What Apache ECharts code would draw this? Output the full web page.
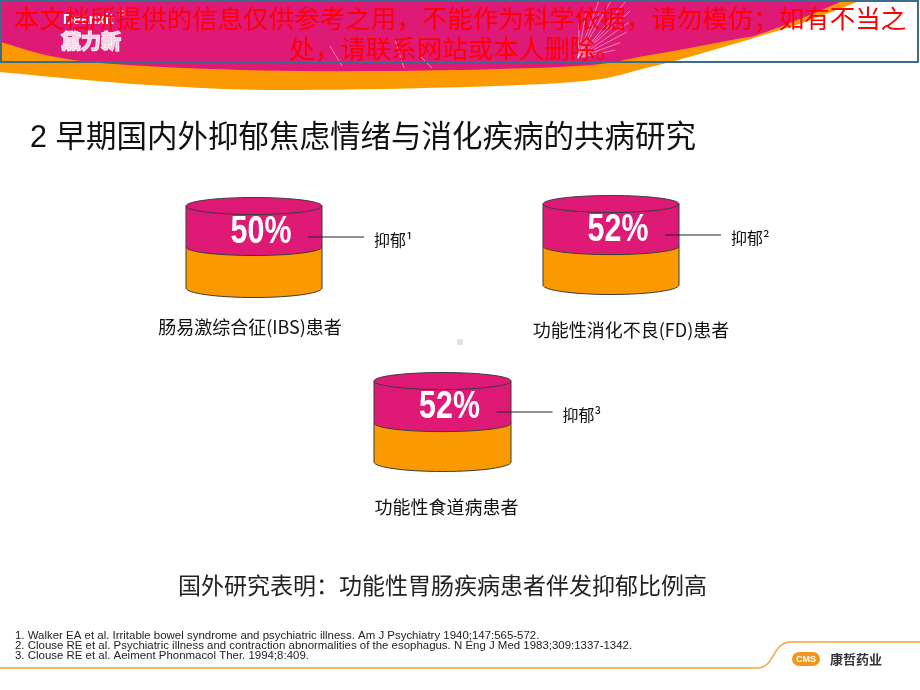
<!DOCTYPE html>
<html><head><meta charset="utf-8">
<script src="https://cdn.jsdelivr.net/npm/echarts@6/dist/echarts.min.js"></script>
<style>html,body{margin:0;padding:0;background:#fff}#c{width:920px;height:690px}</style>
</head><body><div id="c"></div>
<script>
// ---- data ----
const categories = ['肠易激综合征(IBS)患者', '功能性消化不良(FD)患者', '功能性食道病患者'];
const depressionRates = [50, 52, 52];
const rateLabels = ['抑郁¹', '抑郁²', '抑郁³'];
const titleText = '2 早期国内外抑郁焦虑情绪与消化疾病的共病研究';
const conclusionText = '国外研究表明：功能性胃肠疾病患者伴发抑郁比例高';
const noticeLines = ['本文档所提供的信息仅供参考之用，不能作为科学依据，请勿模仿；如有不当之', '处，请联系网站或本人删除。'];
const references = [
  '1. Walker EA et al. Irritable bowel syndrome and psychiatric illness. Am J Psychiatry 1940;147:565-572.',
  '2. Clouse RE et al. Psychiatric illness and contraction abnormalities of the esophagus. N Eng J Med 1983;309:1337-1342.',
  '3. Clouse RE et al. Aeiment Phonmacol Ther. 1994;8:409.'
];

// ---- styling / layout ----
const PINK = '#DF1A76', ORANGE = '#FA9A00', EDGE = '#3a3a3a';
const CJK = '"Noto Sans CJK SC", sans-serif';
const gridBoxes = [
  {left: 186, top: 206, width: 136, height: 82},
  {left: 543, top: 204, width: 136, height: 81},
  {left: 374, top: 381, width: 137, height: 81}
];
const labelMargins = [30, 36, 36];
const labelPads = [[0, 8, 0, 0], [0, 0, 0, 40], [0, 0, 0, 8]];

const K = 0.5523;
function lowerHalf(cx, cy, rx, ry) {
  return `C ${cx - rx} ${cy + K * ry} ${cx - K * rx} ${cy + ry} ${cx} ${cy + ry} C ${cx + K * rx} ${cy + ry} ${cx + rx} ${cy + K * ry} ${cx + rx} ${cy}`;
}
function upperHalf(cx, cy, rx, ry) {
  return `C ${cx + rx} ${cy - K * ry} ${cx + K * rx} ${cy - ry} ${cx} ${cy - ry} C ${cx - K * rx} ${cy - ry} ${cx - rx} ${cy - K * ry} ${cx - rx} ${cy}`;
}

function cylinderItem(idx) {
  return function (params, api) {
    const cat = api.value(0), rate = api.value(1);
    const base = api.coord([cat, 0]);
    const cx = base[0], bottom = base[1];
    const top = api.coord([cat, 100])[1];
    const mid = api.coord([cat, 100 - rate])[1];
    const rx = api.size([1, 0])[0] / 2, ry = 8.5;
    const orangeD = `M ${cx - rx} ${mid} L ${cx - rx} ${bottom} ${lowerHalf(cx, bottom, rx, ry + 1)} L ${cx + rx} ${mid} Z`;
    const pinkD = `M ${cx - rx} ${top} L ${cx - rx} ${mid} ${lowerHalf(cx, mid, rx, ry)} L ${cx + rx} ${top} Z`;
    const topD = `M ${cx - rx} ${top} ${lowerHalf(cx, top, rx, ry)} ${upperHalf(cx, top, rx, ry)} Z`;
    return {
      type: 'group',
      children: [
        {type: 'path', shape: {pathData: orangeD}, style: {fill: ORANGE, stroke: EDGE, lineWidth: 1}},
        {type: 'path', shape: {pathData: pinkD}, style: {fill: PINK, stroke: EDGE, lineWidth: 1}},
        {type: 'path', shape: {pathData: topD}, style: {fill: PINK, stroke: EDGE, lineWidth: 1}},
        {type: 'text', x: cx + 7, y: top + 27, scaleX: 0.8, style: {
          text: rate + '%', fill: '#ffffff',
          font: 'bold 38px "Liberation Sans", sans-serif',
          align: 'center', verticalAlign: 'middle', textAlign: 'center', textVerticalAlign: 'middle'}},
        {type: 'line', shape: {x1: cx + 54, y1: top + 31, x2: cx + 110, y2: top + 31},
          style: {stroke: '#222', lineWidth: 1.2}},
        {type: 'text', x: cx + 120, y: top + 34, style: {
          text: rateLabels[idx], fill: '#111', font: '16px ' + CJK,
          align: 'left', verticalAlign: 'middle', textAlign: 'left', textVerticalAlign: 'middle'}}
      ]
    };
  };
}

// header shapes helper: Catmull-Rom through points
function smoothPts(pts, n) {
  const out = [];
  for (let i = 0; i < pts.length - 1; i++) {
    const p0 = pts[Math.max(i - 1, 0)], p1 = pts[i], p2 = pts[i + 1], p3 = pts[Math.min(i + 2, pts.length - 1)];
    for (let s = 0; s < n; s++) {
      const t = s / n, t2 = t * t, t3 = t2 * t;
      const f = (a, b, c, d) => 0.5 * ((2 * b) + (-a + c) * t + (2 * a - 5 * b + 4 * c - d) * t2 + (-a + 3 * b - 3 * c + d) * t3);
      out.push([f(p0[0], p1[0], p2[0], p3[0]), f(p0[1], p1[1], p2[1], p3[1])]);
    }
  }
  out.push(pts[pts.length - 1]);
  return out;
}
const orangeCurve = [[862, 0], [805, 22], [757, 37], [737, 43], [650, 67], [560, 83], [300, 90], [150, 85], [0, 72]];
const pinkCurve = [[845, 0], [800, 19], [757, 35], [737, 39], [650, 55], [560, 67], [300, 71], [90, 62], [0, 42]];

const dandelion = [];
for (const [ang, len] of [[-80, 45], [-70, 60], [-60, 70], [-50, 75], [-42, 70], [-35, 62], [-28, 55], [-20, 45], [-12, 38], [-88, 35], [-65, 50], [-46, 58]]) {
  const a = ang * Math.PI / 180;
  dandelion.push({type: 'line', shape: {x1: 578, y1: 58, x2: 578 + Math.cos(a) * len, y2: 58 + Math.sin(a) * len},
    style: {stroke: 'rgba(255,255,255,0.45)', lineWidth: 1}, z: 3});
}
for (const [x1, y1, x2, y2] of [[330, 46, 342, 66], [395, 40, 404, 68], [420, 56, 432, 68]]) {
  dandelion.push({type: 'line', shape: {x1, y1, x2, y2}, style: {stroke: 'rgba(255,255,255,0.45)', lineWidth: 1}, z: 3});
}

function txt(text, x, y, font, fill, align, extra) {
  return Object.assign({type: 'text', x, y, z: 10, style: {
    text, font, fill, align: align || 'left', verticalAlign: 'middle',
    textAlign: align || 'left', textVerticalAlign: 'middle'}}, extra || {});
}
const REF_FONT = '10.5px "Liberation Sans", sans-serif';

const graphics = [
  {type: 'polygon', shape: {points: [[0, 0]].concat(smoothPts(orangeCurve, 12))}, style: {fill: ORANGE}, z: 1},
  {type: 'polygon', shape: {points: [[0, 0]].concat(smoothPts(pinkCurve, 12))}, style: {fill: PINK}, z: 2},
  ...dandelion,
  {type: 'rect', shape: {x: 1, y: 1, width: 917, height: 61}, style: {fill: 'none', stroke: '#3d6b8c', lineWidth: 2}, z: 5},
  txt('Deanxit', 63, 20, 'bold 14px "Liberation Sans", sans-serif', '#ffffff', 'left', {z: 6}),
  txt('®', 119, 14, '8px "Liberation Sans", sans-serif', '#ffffff', 'left', {z: 6}),
  {type: 'text', x: 61, y: 41, z: 6, style: {text: '黛力新', font: 'bold 20px ' + CJK, fill: '#f6d3e4', stroke: '#ffffff', lineWidth: 1.5,
    align: 'left', verticalAlign: 'middle', textAlign: 'left', textVerticalAlign: 'middle'}},
  txt(noticeLines[0], 460, 18, '25.5px ' + CJK, '#ff0000', 'center', {z: 20}),
  txt(noticeLines[1], 455, 48, '25.5px ' + CJK, '#ff0000', 'center', {z: 20}),
  txt(titleText, 30, 139, '30.5px "Liberation Sans", ' + CJK, '#111', 'left'),
  txt(conclusionText, 178, 585, '23px ' + CJK, '#222', 'left'),
  {type: 'rect', shape: {x: 457, y: 339, width: 6, height: 6}, style: {fill: '#e2e2e2'}},
  txt(references[0], 15, 636, REF_FONT, '#222', 'left', {scaleX: 1.09}),
  txt(references[1], 15, 646, REF_FONT, '#222', 'left', {scaleX: 1.09}),
  txt(references[2], 15, 656, REF_FONT, '#222', 'left', {scaleX: 1.09}),
  {type: 'polyline', shape: {points: [[0, 668], [758, 668]]}, style: {stroke: '#F2A53A', lineWidth: 1.5, fill: 'none'}},
  {type: 'bezierCurve', shape: {x1: 758, y1: 668, cpx1: 775, cpy1: 667, cpx2: 772, cpy2: 643, x2: 790, y2: 642},
    style: {stroke: '#F2A53A', lineWidth: 1.5, fill: 'none'}},
  {type: 'polyline', shape: {points: [[790, 642], [920, 642]]}, style: {stroke: '#F2A53A', lineWidth: 1.5, fill: 'none'}},
  {type: 'rect', shape: {x: 792, y: 652, width: 28, height: 14, r: 7}, style: {fill: '#F0961E'}},
  txt('CMS', 806, 659.5, 'bold 9px "Liberation Sans", sans-serif', '#ffffff', 'center'),
  txt('康哲药业', 830, 659, 'bold 13px ' + CJK, '#333', 'left')
];

const chart = echarts.init(document.getElementById('c'), null, {renderer: 'canvas'});
const option = {
  backgroundColor: '#ffffff',
  animation: false,
  grid: gridBoxes.map(g => Object.assign({containLabel: false}, g)),
  xAxis: categories.map((c, i) => ({
    type: 'category', gridIndex: i, data: [c],
    axisLine: {show: false}, axisTick: {show: false}, splitLine: {show: false},
    axisLabel: {margin: labelMargins[i], padding: labelPads[i], fontSize: 18, fontFamily: 'Noto Sans CJK SC', color: '#111', interval: 0}
  })),
  yAxis: categories.map((c, i) => ({type: 'value', gridIndex: i, min: 0, max: 100, show: false})),
  series: categories.map((c, i) => ({
    type: 'custom', xAxisIndex: i, yAxisIndex: i,
    data: [[c, depressionRates[i]]], encode: {x: 0, y: 1},
    renderItem: cylinderItem(i), clip: false, z: 4
  })),
  graphic: graphics
};
chart.setOption(option);
</script>
</body></html>
